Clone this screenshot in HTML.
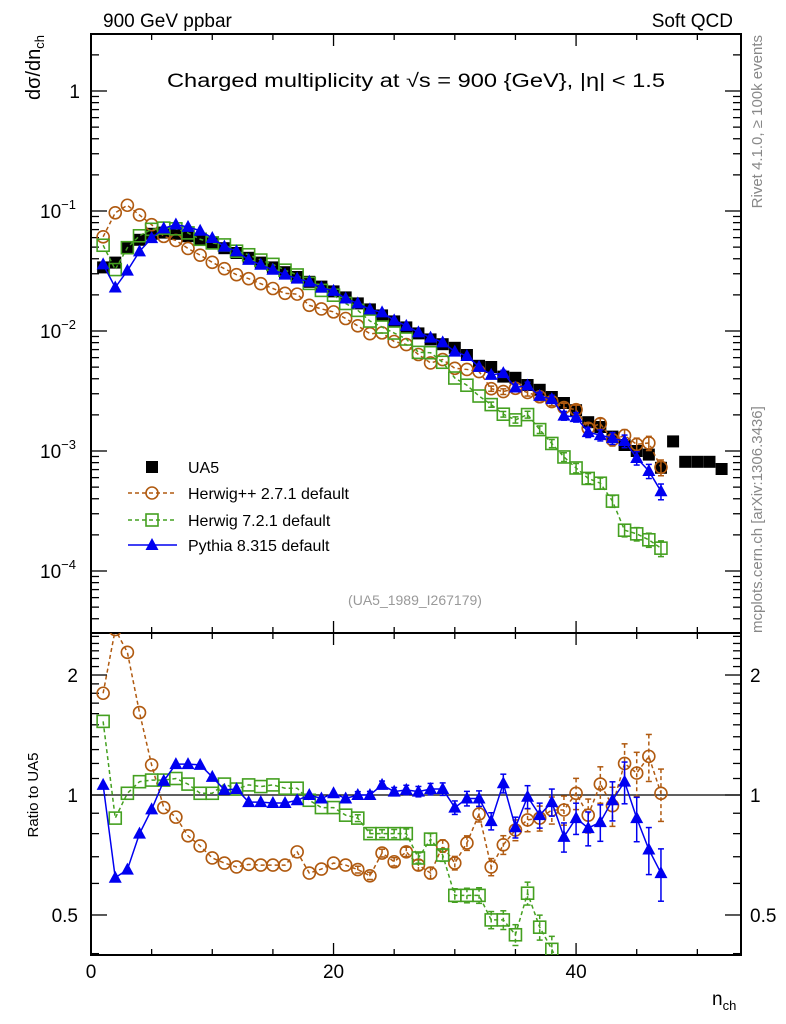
<!DOCTYPE html>
<html><head><meta charset="utf-8"><style>
html,body{margin:0;padding:0;background:#fff;width:786px;height:1024px;overflow:hidden}
svg{display:block;font-family:"Liberation Sans",sans-serif}
</style></head><body>
<svg id="c" width="786" height="1024" viewBox="0 0 786 1024" xmlns="http://www.w3.org/2000/svg">
<text x="103" y="27" font-size="19">900 GeV ppbar</text>
<text x="733" y="27" font-size="19" text-anchor="end">Soft QCD</text>
<text x="167" y="87" font-size="19" textLength="498" lengthAdjust="spacingAndGlyphs">Charged multiplicity at √s = 900 {GeV}, |η| &lt; 1.5</text>
<text transform="translate(40,35) rotate(-90)" font-size="20" text-anchor="end">dσ/dn<tspan font-size="13" dy="4">ch</tspan></text>
<text transform="translate(38,795) rotate(-90)" font-size="15" text-anchor="middle">Ratio to UA5</text>
<text x="712" y="1005" font-size="19">n<tspan font-size="13" dy="5">ch</tspan></text>
<text transform="translate(762,35) rotate(-90)" font-size="15" fill="#888" text-anchor="end">Rivet 4.1.0, ≥ 100k events</text>
<text transform="translate(762,633) rotate(-90)" font-size="15" fill="#888">mcplots.cern.ch [arXiv:1306.3436]</text>
<text x="415" y="605" font-size="14" fill="#999" text-anchor="middle">(UA5_1989_I267179)</text>
<g id="g"></g>
</svg>
<script>
const nBins=[1,2,3,4,5,6,7,8,9,10,11,12,13,14,15,16,17,18,19,20,21,22,23,24,25,26,27,28,29,30,31,32,33,34,35,36,37,38,39,40,41,42,43,44,45,46,47];
const ua5N=[1,2,3,4,5,6,7,8,9,10,11,12,13,14,15,16,17,18,19,20,21,22,23,24,25,26,27,28,29,30,31,32,33,34,35,36,37,38,39,40,41,42,43,44,45,46,47,48,49,50,51,52];
const ua5Log=[-1.47,-1.43,-1.31,-1.24,-1.19,-1.18,-1.19,-1.21,-1.24,-1.27,-1.31,-1.35,-1.39,-1.43,-1.47,-1.51,-1.55,-1.59,-1.63,-1.67,-1.72,-1.77,-1.82,-1.87,-1.92,-1.97,-2.02,-2.07,-2.11,-2.14,-2.2,-2.29,-2.3,-2.38,-2.39,-2.45,-2.49,-2.55,-2.6,-2.66,-2.76,-2.8,-2.88,-2.95,-3.0,-3.03,-3.14,-2.92,-3.09,-3.09,-3.09,-3.15];
const herwigppRatio=[1.8,2.6,2.28,1.61,1.19,0.93,0.88,0.79,0.745,0.695,0.675,0.66,0.67,0.667,0.667,0.667,0.72,0.637,0.652,0.675,0.667,0.65,0.627,0.715,0.68,0.72,0.667,0.637,0.745,0.675,0.758,0.896,0.66,0.75,0.817,0.866,0.875,0.917,0.917,1.01,0.89,1.065,0.94,1.2,1.135,1.25,1.01];
const herwig7Ratio=[1.53,0.875,1.01,1.08,1.09,1.09,1.1,1.065,1.01,1.01,1.065,1.035,1.06,1.05,1.06,1.04,1.04,0.97,0.93,0.93,0.89,0.875,0.8,0.8,0.8,0.8,0.695,0.775,0.707,0.56,0.56,0.56,0.486,0.486,0.446,0.567,0.466,0.41,0.355,0.33,0.34,0.34,0.29,0.195,0.204,0.195,0.214];
const pythiaRatio=[1.06,0.62,0.65,0.8,0.92,1.085,1.195,1.195,1.19,1.11,1.03,1.035,0.96,0.96,0.955,0.955,0.97,1.0,0.98,1.01,0.98,1.0,1.0,1.06,1.02,1.03,1.02,1.035,1.035,0.93,0.98,0.98,0.86,1.07,0.83,0.99,0.89,0.96,0.785,0.875,0.826,0.855,0.97,1.08,0.875,0.73,0.637];
const relErr=[0.005,0.005,0.005,0.005,0.005,0.005,0.005,0.005,0.005,0.005,0.006,0.006,0.007,0.007,0.008,0.008,0.009,0.01,0.01,0.011,0.012,0.013,0.014,0.015,0.016,0.018,0.02,0.022,0.024,0.026,0.028,0.03,0.033,0.036,0.04,0.044,0.048,0.052,0.056,0.06,0.065,0.07,0.075,0.08,0.085,0.09,0.1];
const xTickLabels=["0","20","40"];
const yTickExp=[0,-1,-2,-3,-4];
const ratioTicks=["2","1","0.5"];

const L=91,R=741,T=34,M=633,B=955;
const xMax=53.6;
const X=v=>L+(R-L)*v/xMax;
const Ymain=lg=>91-120*lg;
const Yr=r=>795-398.6*Math.log10(r);
const NS="http://www.w3.org/2000/svg";
const g=document.getElementById('g');
function el(tag,attrs,parent){const e=document.createElementNS(NS,tag);for(const k in attrs)e.setAttribute(k,attrs[k]);(parent||g).appendChild(e);return e;}

const fm=el('rect',{x:L,y:T,width:R-L,height:M-T,fill:'none',stroke:'#000','stroke-width':2});


const fr=el('rect',{x:L,y:M,width:R-L,height:B-M,fill:'none',stroke:'#000','stroke-width':2});



for(let v=0;v<=xMax;v+=5){
  const len=(v%20===0)?12:6;
  [[T,1],[M,-1],[M,1],[B,-1]].forEach(([y0,d])=>{
    el('line',{x1:X(v),x2:X(v),y1:y0,y2:y0+d*len,stroke:'#000','stroke-width':1.3});
  });
}
xTickLabels.forEach(s=>{
  const t=el('text',{x:X(+s),y:978,'font-size':19,'text-anchor':'middle'});t.textContent=s;
  
  
});
for(let d=0;d>=-5;d--){
  for(let k=1;k<10;k++){
    const lg=d+Math.log10(k);const y=Ymain(lg);
    if(y<T||y>M)continue;
    const len=k===1?16:8;
    el('line',{x1:L,x2:L+len,y1:y,y2:y,stroke:'#000','stroke-width':1.3});
    el('line',{x1:R,x2:R-len,y1:y,y2:y,stroke:'#000','stroke-width':1.3});
  }
}
yTickExp.forEach(e=>{
  const t=el('text',{x:e===0?80:76,y:Ymain(e)+7,'font-size':19,'text-anchor':'end'});
  if(e===0)t.textContent='1';
  else{t.textContent='10';const s=document.createElementNS(NS,'tspan');s.setAttribute('font-size','13');s.setAttribute('dy','-9');s.textContent=String(e).replace('-','−');t.appendChild(s);}
  
  
});
for(let v=0.4;v<=2.6;v+=0.1){
  const vv=Math.round(v*10)/10;const y=Yr(vv);if(y<M||y>B)continue;
  const major=(vv===0.5||vv===1||vv===2);const len=major?16:8;
  el('line',{x1:L,x2:L+len,y1:y,y2:y,stroke:'#000','stroke-width':1.3});
  el('line',{x1:R,x2:R-len,y1:y,y2:y,stroke:'#000','stroke-width':1.3});
}
ratioTicks.forEach(s=>{
  const y=Yr(+s)+7;
  const a=el('text',{x:78,y:y,'font-size':19,'text-anchor':'end'});a.textContent=s;
  
  
  const b=el('text',{x:750,y:y,'font-size':19});b.textContent=s;
  
  
});
el('line',{x1:L,x2:R,y1:Yr(1),y2:Yr(1),stroke:'#000','stroke-width':1.3});

const defs=el('defs',{});
const c1=el('clipPath',{id:'cm'},defs);el('rect',{x:L,y:T,width:R-L,height:M-T},c1);
const c2=el('clipPath',{id:'cr'},defs);el('rect',{x:L,y:M,width:R-L,height:B-M},c2);

function marker(gp,type,x,y,col){
  if(type==='circle')el('circle',{cx:x,cy:y,r:6,fill:'none',stroke:col,'stroke-width':1.6},gp);
  else if(type==='square')el('rect',{x:x-6,y:y-6,width:12,height:12,fill:'none',stroke:col,'stroke-width':1.6},gp);
  else if(type==='tri')el('polygon',{points:`${x},${y-7} ${x-6.5},${y+5} ${x+6.5},${y+5}`,fill:col},gp);
  else if(type==='bsq')el('rect',{x:x-6,y:y-6,width:12,height:12,fill:col},gp);
}
const series=[
 {name:'herwigpp',ratio:herwigppRatio,col:'#b05a10',m:'circle',dash:'4,3'},
 {name:'herwig7',ratio:herwig7Ratio,col:'#44a020',m:'square',dash:'4,3'},
 {name:'pythia',ratio:pythiaRatio,col:'#0000f0',m:'tri',dash:null}
];
const gu=el('g',{'clip-path':'url(#cm)'});


ua5N.forEach((n,i)=>marker(gu,'bsq',X(n),Ymain(ua5Log[i]),'#000'));

series.forEach(s=>{
  const gm=el('g',{'clip-path':'url(#cm)'});
  
  
  const gr=el('g',{'clip-path':'url(#cr)'});
  
  
  const ptsM=[],ptsR=[];
  nBins.forEach((n,i)=>{
    const lg=ua5Log[i]+Math.log10(s.ratio[i]);
    ptsM.push([X(n),Ymain(lg)]);ptsR.push([X(n),Yr(s.ratio[i])]);
  });
  const lineAttr=(pts)=>({points:pts.map(p=>p.join(',')).join(' '),fill:'none',stroke:s.col,'stroke-width':1.5});
  const pm=el('polyline',lineAttr(ptsM),gm);const pr=el('polyline',lineAttr(ptsR),gr);
  if(s.dash){pm.setAttribute('stroke-dasharray',s.dash);pr.setAttribute('stroke-dasharray',s.dash);}
  nBins.forEach((n,i)=>{
    const e=relErr[i];
    const r=s.ratio[i];
    const y1=Yr(r*(1+e*1.5)),y2=Yr(r*(1-e*1.5));
    if(e>0.012){
      const ln=el('line',{x1:X(n),x2:X(n),y1:y1,y2:y2,stroke:s.col,'stroke-width':1.5},gr);if(s.dash)ln.setAttribute('stroke-dasharray','4,3');
      el('line',{x1:X(n)-3,x2:X(n)+3,y1:y1,y2:y1,stroke:s.col,'stroke-width':1.5},gr);
      el('line',{x1:X(n)-3,x2:X(n)+3,y1:y2,y2:y2,stroke:s.col,'stroke-width':1.5},gr);
      if(e>0.03){
        const lg=ua5Log[i]+Math.log10(r);
        const m1=Ymain(lg+Math.log10(1+e*1.5)),m2=Ymain(lg+Math.log10(1-e*1.5));
        el('line',{x1:X(n),x2:X(n),y1:m1,y2:m2,stroke:s.col,'stroke-width':1.5},gm);
        el('line',{x1:X(n)-3,x2:X(n)+3,y1:m1,y2:m1,stroke:s.col,'stroke-width':1.5},gm);
        el('line',{x1:X(n)-3,x2:X(n)+3,y1:m2,y2:m2,stroke:s.col,'stroke-width':1.5},gm);
      }
    }
    marker(gm,s.m,ptsM[i][0],ptsM[i][1],s.col);
    marker(gr,s.m,ptsR[i][0],ptsR[i][1],s.col);
  });
});

const legendLabels=['UA5','Herwig++ 2.7.1 default','Herwig 7.2.1 default','Pythia 8.315 default'];
const legendY=[467,493,520,545];
const lg=el('g',{});


legendLabels.forEach((lab,i)=>{
  const y=legendY[i];
  const eg=el('g',{},lg);
  
  
  if(i===0)marker(eg,'bsq',152,y,'#000');
  else{
    const s=series[i-1];
    const ln=el('line',{x1:128,x2:177,y1:y,y2:y,stroke:s.col,'stroke-width':1.5},eg);
    if(s.dash)ln.setAttribute('stroke-dasharray','4,3');
    marker(eg,s.m,152,y,s.col);
  }
  const t=el('text',{x:188,y:y+6,'font-size':16},eg);t.textContent=lab;
});
</script>
</body></html>
